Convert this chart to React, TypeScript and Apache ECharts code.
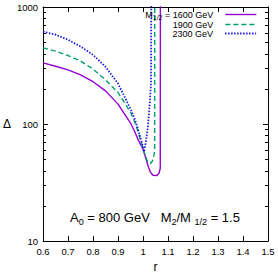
import React, { useEffect, useRef } from "react";
import * as echarts from "echarts";

// r grid and Δ values for each M_{1/2}
const r1600 = [0.6, 0.65, 0.7, 0.75, 0.8, 0.85, 0.9, 0.95, 0.967, 0.98, 1.0, 1.01, 1.02, 1.03, 1.04, 1.055, 1.064, 1.069, 1.0695];
const d1600 = [333, 312, 290, 263, 230, 192, 148, 102, 86, 74, 61, 52, 44, 38.5, 36.5, 36.3, 38, 42, 2000];

const r1900 = [0.6, 0.65, 0.7, 0.75, 0.8, 0.85, 0.9, 0.95, 0.967, 0.98, 1.0, 1.01, 1.02, 1.03, 1.038, 1.044, 1.0465, 1.047];
const d1900 = [447, 420, 385, 345, 295, 238, 186, 126, 104, 86, 62, 53, 46.5, 46, 48.5, 54, 60, 2000];

const r2300 = [0.6, 0.65, 0.7, 0.75, 0.8, 0.85, 0.9, 0.95, 0.967, 0.98, 1.0, 1.004, 1.012, 1.02, 1.028, 1.032, 1.0335];
const d2300 = [617, 580, 525, 460, 390, 308, 222, 135, 110, 90, 64, 58, 72, 97, 160, 230, 2000];

const seriesNames = ["M1/2 = 1600 GeV", "1900 GeV", "2300 GeV"];
const yMinor = [20, 30, 40, 50, 60, 70, 80, 90, 200, 300, 400, 500, 600, 700, 800, 900];

const FONT = "Liberation Sans";

export default function App() {
  const ref = useRef<HTMLDivElement>(null);
  useEffect(() => {
    const chart = echarts.init(ref.current!, null, { renderer: "svg" });
    const pair = (r: number[], v: number[]) => r.map((x, i) => [x, v[i]]);
    const black = { color: "#000", width: 1 };
    const yCommon = { type: "log", logBase: 10, min: 10, max: 1000, splitLine: { show: false } };
    const xCommon = { type: "value", min: 0.6, max: 1.5, interval: 0.1, splitLine: { show: false } };
    const legendBase = {
      right: 21,
      orient: "vertical",
      align: "right",
      padding: 0,
      itemWidth: 31,
      itemHeight: 8,
      itemStyle: { opacity: 0 },
      textStyle: {
        fontFamily: FONT,
        fontSize: 9,
        color: "#000",
        padding: [0, 7, 0, 0],
        rich: {
          n: { fontFamily: FONT, fontSize: 9, lineHeight: 12, verticalAlign: "middle", color: "#000" },
          s: { fontFamily: FONT, fontSize: 7, lineHeight: 6, verticalAlign: "bottom", color: "#000" },
        },
      },
      formatter: (name: string) =>
        name.startsWith("M1/2") ? "{n|M}{s|1/2}{n| = 1600 GeV}" : "{n|" + name + "}",
    };
    const annotation = {
      type: "text",
      left: 70,
      top: 211,
      style: {
        text: "{n|A}{s|0}{n| = 800 GeV   M}{s|2}{n|/M }{s|1/2}{n| = 1.5}",
        rich: {
          n: { fontFamily: FONT, fontSize: 13, lineHeight: 18, verticalAlign: "middle", fill: "#000" },
          s: { fontFamily: FONT, fontSize: 9, lineHeight: 9, verticalAlign: "bottom", fill: "#000" },
        },
      },
    };
    chart.setOption({
      animation: false,
      grid: { left: 40, right: 10, top: 7, bottom: 35 },
      xAxis: [
        {
          ...xCommon,
          position: "bottom",
          axisLine: { lineStyle: black },
          axisTick: { inside: true, length: 5, lineStyle: black },
          axisLabel: {
            color: "#000",
            fontFamily: FONT,
            fontSize: 9.5,
            margin: 5,
            formatter: (v: number) => String(+v.toFixed(1)),
          },
          name: "r",
          nameLocation: "middle",
          nameGap: 19,
          nameTextStyle: { fontFamily: FONT, fontSize: 12, color: "#000" },
        },
        {
          ...xCommon,
          position: "top",
          axisLine: { lineStyle: black },
          axisTick: { inside: true, length: 5, lineStyle: black },
          axisLabel: { show: false },
        },
      ],
      yAxis: [
        {
          ...yCommon,
          position: "left",
          axisLine: { show: true, lineStyle: black },
          axisTick: { inside: true, length: 5, lineStyle: black },
          axisLabel: {
            color: "#000",
            fontFamily: FONT,
            fontSize: 9.5,
            margin: 5,
            formatter: (v: number) => String(Math.round(v)),
          },
          name: "Δ",
          nameLocation: "middle",
          nameGap: 30,
          nameRotate: 0,
          nameTextStyle: { fontFamily: FONT, fontSize: 12, color: "#000" },
        },
        {
          ...yCommon,
          position: "right",
          axisLine: { show: true, lineStyle: black },
          axisTick: { inside: true, length: 5, lineStyle: black },
          axisLabel: { show: false },
        },
      ],
      legend: [
        { ...legendBase, top: 10, data: [seriesNames[0]], lineStyle: { width: 1.4 } },
        { ...legendBase, top: 20, data: [seriesNames[1]], lineStyle: { width: 1.4 } },
        { ...legendBase, top: 29, data: [seriesNames[2]], lineStyle: { width: 1.8 } },
      ],
      graphic: [annotation],
      series: [
        {
          name: seriesNames[0],
          type: "line",
          data: pair(r1600, d1600),
          showSymbol: false,
          symbol: "none",
          clip: true,
          lineStyle: { color: "#9400d3", width: 1.4, type: "solid" },
          itemStyle: { color: "#9400d3" },
        },
        {
          name: seriesNames[1],
          type: "line",
          data: pair(r1900, d1900),
          showSymbol: false,
          symbol: "none",
          clip: true,
          lineStyle: { color: "#009e73", width: 1.4, type: [5, 3] },
          itemStyle: { color: "#009e73" },
        },
        {
          name: seriesNames[2],
          type: "line",
          data: pair(r2300, d2300),
          showSymbol: false,
          symbol: "none",
          clip: true,
          lineStyle: { color: "#1c1ce0", width: 1.8, type: [1.5, 1.5] },
          itemStyle: { color: "#1c1ce0" },
        },
      ],
    });

    // minor log ticks on left and right axes, positioned through the axis scale
    const xL = chart.convertToPixel({ xAxisIndex: 0 }, 0.6) as number;
    const xR = chart.convertToPixel({ xAxisIndex: 0 }, 1.5) as number;
    const minorTicks: any[] = [];
    yMinor.forEach((v) => {
      const y = Math.round(chart.convertToPixel({ yAxisIndex: 0 }, v) as number) + 0.5;
      minorTicks.push({
        type: "line",
        silent: true,
        shape: { x1: xL, y1: y, x2: xL + 3, y2: y },
        style: { stroke: "#000", lineWidth: 1 },
      });
      minorTicks.push({
        type: "line",
        silent: true,
        shape: { x1: xR - 3, y1: y, x2: xR, y2: y },
        style: { stroke: "#000", lineWidth: 1 },
      });
    });
    chart.setOption({ graphic: [annotation, ...minorTicks] });

    return () => chart.dispose();
  }, []);
  return <div ref={ref} style={{ width: 278, height: 278, position: "absolute", left: 0, top: 0 }} />;
}
